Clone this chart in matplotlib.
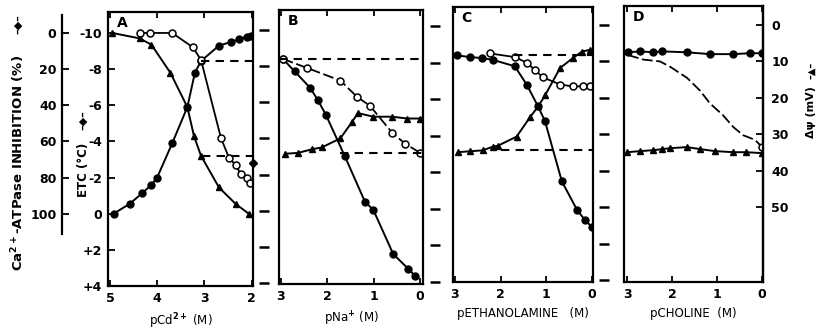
import numpy as np
import matplotlib.pyplot as plt

plt.rcParams['font.family'] = ['DejaVu Sans']
plt.rcParams['font.weight'] = 'bold'
plt.rcParams['font.size'] = 8.5
plt.rcParams['mathtext.default'] = 'bf'

# ---- data (ETC in degC, x in p-units) ----
# panel A: pCd2+
A_fc_x = [4.92, 4.58, 4.31, 4.12, 4.00, 3.68, 3.36, 3.20, 3.07, 2.69, 2.44, 2.27, 2.10, 2.02]
A_fc_y = [0.0, -0.55, -1.15, -1.6, -2.0, -3.9, -5.9, -7.8, -8.45, -9.3, -9.5, -9.65, -9.8, -9.85]
A_tri_x = [4.95, 4.37, 4.12, 3.72, 3.36, 3.22, 3.07, 2.69, 2.34, 2.06]
A_tri_y = [-10.0, -9.7, -9.35, -7.8, -5.9, -4.3, -3.2, -1.45, -0.55, 0.0]
A_oc_x = [4.37, 4.16, 3.68, 3.24, 3.07, 2.65, 2.48, 2.34, 2.23, 2.10, 2.04]
A_oc_y = [-10.0, -10.0, -10.0, -9.2, -8.5, -4.2, -3.1, -2.7, -2.2, -2.0, -1.7]
A_dash_x = [3.07, 3.05]
A_dash_y = [-8.45, -3.2]
A_diamond = (1.97, -2.8)

# panel B: pNa+
B_fc_x = [2.96, 2.70, 2.37, 2.20, 2.03, 1.62, 1.19, 1.01, 0.58, 0.26, 0.11]
B_fc_y = [-8.4, -7.7, -6.8, -6.1, -5.3, -3.0, -0.5, -0.05, 2.4, 3.2, 3.6]
B_tri_x = [2.91, 2.63, 2.33, 2.12, 1.72, 1.47, 1.34, 1.01, 0.60, 0.28, 0.0]
B_tri_y = [-3.15, -3.2, -3.4, -3.5, -4.0, -4.9, -5.4, -5.2, -5.2, -5.1, -5.1]
B_oc_x = [2.96, 2.44, 1.72, 1.36, 1.08, 0.60, 0.32, 0.0]
B_oc_y = [-8.4, -7.9, -7.2, -6.3, -5.8, -4.3, -3.7, -3.2]
B_dash_x = [3.04, 1.72]
B_dash_y = [-8.4, -3.2]

# panel C: pETHANOLAMINE
C_fc_x = [2.96, 2.67, 2.41, 2.17, 1.69, 1.43, 1.18, 1.03, 0.66, 0.33, 0.16, 0.0]
C_fc_y = [-8.4, -8.3, -8.25, -8.15, -7.8, -6.8, -5.6, -4.8, -1.5, 0.05, 0.6, 1.0]
C_tri_x = [2.93, 2.67, 2.39, 2.17, 2.06, 1.65, 1.36, 1.18, 1.03, 0.70, 0.42, 0.22, 0.05]
C_tri_y = [-3.1, -3.15, -3.2, -3.4, -3.45, -3.95, -5.0, -5.6, -6.2, -7.7, -8.25, -8.6, -8.7]
C_oc_x = [2.23, 1.69, 1.43, 1.25, 1.08, 0.70, 0.42, 0.20, 0.05]
C_oc_y = [-8.5, -8.3, -8.0, -7.6, -7.2, -6.8, -6.7, -6.7, -6.7]
C_dash_x = [1.7, 2.0]
C_dash_y = [-8.4, -3.2]

# panel D: pCHOLINE
D_fc_x = [2.98, 2.71, 2.42, 2.22, 1.67, 1.16, 0.64, 0.27, 0.0]
D_fc_y = [-8.5, -8.55, -8.5, -8.55, -8.5, -8.4, -8.4, -8.45, -8.45]
D_tri_x = [3.0, 2.71, 2.42, 2.22, 2.04, 1.67, 1.38, 1.05, 0.64, 0.35, 0.0]
D_tri_y = [-3.02, -3.08, -3.13, -3.19, -3.24, -3.30, -3.19, -3.08, -3.02, -3.02, -2.97]
D_oc_x = [2.98, 2.64, 2.27, 2.04, 1.67, 1.38, 1.16, 0.87, 0.64, 0.42, 0.16, 0.0]
D_oc_y = [-8.35, -8.1, -8.0, -7.7, -7.1, -6.4, -5.7, -5.05, -4.4, -3.95, -3.7, -3.3]
D_dash_x = []
D_dash_y = []

etc_ticks = [-10, -8, -6, -4, -2, 0, 2, 4]
etc_labels = ['-10', '-8', '-6', '-4', '-2', '0', '+2', '+4']
inhib_ticks = [0, 20, 40, 60, 80, 100]
mv_ticks = [0, 10, 20, 30, 40, 50]

W, H = 818, 332
fig = plt.figure(figsize=(W / 100, H / 100), dpi=100)


def frac(l, r, t, b):
    return [l / W, 1 - b / H, (r - l) / W, (b - t) / H]


panels = [
    dict(name='A', box=(108, 253, 12, 286), xlim=(5.04, 1.97), ylim=(4.0, -11.16),
         xticks=[5, 4, 3, 2], xlabel='pCd$^{2+}$ (M)',
         fc=(A_fc_x, A_fc_y), tri=(A_tri_x, A_tri_y), oc=(A_oc_x, A_oc_y),
         dash=(A_dash_x, A_dash_y), tickcol=None),
    dict(name='B', box=(279, 423, 10, 284), xlim=(3.04, -0.06), ylim=(4.05, -11.1),
         xticks=[3, 2, 1, 0], xlabel='pNa$^{+}$ (M)',
         fc=(B_fc_x, B_fc_y), tri=(B_tri_x, B_tri_y), oc=(B_oc_x, B_oc_y),
         dash=(B_dash_x, B_dash_y), tickcol=263.5),
    dict(name='C', box=(453, 593, 7, 282), xlim=(3.04, -0.02), ylim=(4.0, -11.04),
         xticks=[3, 2, 1, 0], xlabel='pETHANOLAMINE   (M)',
         fc=(C_fc_x, C_fc_y), tri=(C_tri_x, C_tri_y), oc=(C_oc_x, C_oc_y),
         dash=(C_dash_x, C_dash_y), tickcol=434.5),
    dict(name='D', box=(624, 763, 6, 282), xlim=(3.07, -0.02), ylim=(4.1, -11.04),
         xticks=[3, 2, 1, 0], xlabel='pCHOLINE  (M)',
         fc=(D_fc_x, D_fc_y), tri=(D_tri_x, D_tri_y), oc=(D_oc_x, D_oc_y),
         dash=(D_dash_x, D_dash_y), tickcol=604.5),
]

axes = []
for p in panels:
    l, r, t, b = p['box']
    ax = fig.add_axes(frac(l, r, t, b))
    axes.append(ax)
    for s in ax.spines.values():
        s.set_linewidth(1.6)

    # curves
    ax.plot(*p['fc'], '-', color='k', lw=1.4, marker='o', ms=5, mfc='k', mec='k')
    ax.plot(*p['tri'], '-', color='k', lw=1.4, marker='^', ms=5, mfc='k', mec='k')
    oc_every = [len(p['oc'][0]) - 1] if p['name'] == 'D' else None
    oc_style = (0, (6, 2)) if p['name'] in ('B', 'D') else '-'
    ax.plot(*p['oc'], color='k', lw=1.3, ls=oc_style, marker='o', ms=5, mfc='white',
            mec='k', mew=1.1, markevery=oc_every)

    # dashed reference levels, running to the right frame
    for x0, y0 in zip(*p['dash']):
        ax.hlines(y0, x0, p['xlim'][1], colors='k', linestyles=(0, (4, 3)), lw=1.5)

    ax.set_xlim(*p['xlim'])
    ax.set_ylim(*p['ylim'])
    ax.set_xticks(p['xticks'])
    ax.set_xticklabels([str(v) for v in p['xticks']])
    ax.tick_params(axis='x', direction='in', top=True, bottom=True, length=4,
                   width=1.3, pad=4, labelsize=9)
    ax.set_xlabel(p['xlabel'], fontsize=8.5, labelpad=5)
    ax.text(0.06, 0.985, p['name'], transform=ax.transAxes, ha='left', va='top',
            fontsize=10, fontweight='bold')

    if p['tickcol'] is None:
        ax.set_yticks(etc_ticks)
        ax.set_yticklabels(etc_labels)
        ax.tick_params(axis='y', direction='in', length=5, width=1.3, pad=4, labelsize=9)
    else:
        ax.set_yticks([])
        loc = (p['tickcol'] - l) / (r - l)
        sec = ax.secondary_yaxis(loc)
        sec.set_yticks(etc_ticks)
        sec.tick_params(axis='y', direction='inout', length=7, width=1.8,
                        labelleft=False, labelright=False)
        for s in sec.spines.values():
            s.set_visible(False)

axA = axes[0]
axD = axes[3]

# diamond marker on right edge of A
axA.plot(*A_diamond, marker='D', ms=4.5, color='k', clip_on=False)

# Ca-ATPase inhibition axis (left)
inh = axA.secondary_yaxis((62 - 108) / (253 - 108),
                          functions=(lambda e: (e + 10) * 10, lambda q: q / 10 - 10))
inh.set_yticks(inhib_ticks)
inh.tick_params(axis='y', direction='in', length=5, width=1.3, pad=4, labelsize=9)
inh.spines['left'].set_linewidth(1.6)
inh.spines['left'].set_bounds(-10, 111)

# membrane potential axis (right of D)
mv = axD.secondary_yaxis('right', functions=(lambda e: (e + 10) * 5, lambda m: m / 5 - 10))
mv.set_yticks(mv_ticks)
mv.tick_params(axis='y', direction='in', length=5, width=1.3, pad=6, labelsize=9)
mv.spines['right'].set_linewidth(1.6)

# axis titles
fig.text(18 / W, 1 - 163 / H, 'Ca$^{2+}$-ATPase INHIBITION (%)', rotation=90,
         ha='center', va='center', fontsize=9.5)
fig.text(18 / W, 1 - 24 / H, '–◆–', rotation=90, ha='center', va='center', fontsize=8)
fig.text(83 / W, 1 - 170 / H, 'ETC (°C)', rotation=90, ha='center', va='center',
         fontsize=8.5)
fig.text(83 / W, 1 - 120 / H, '–◆–', rotation=90, ha='center', va='center', fontsize=8)
fig.text(811 / W, 1 - 112 / H, 'Δψ (mV)', rotation=90, ha='center', va='center',
         fontsize=8)
fig.text(811 / W, 1 - 70 / H, '–▲–', rotation=90, ha='center', va='center', fontsize=7)

fig.savefig('out.png', dpi=100)
